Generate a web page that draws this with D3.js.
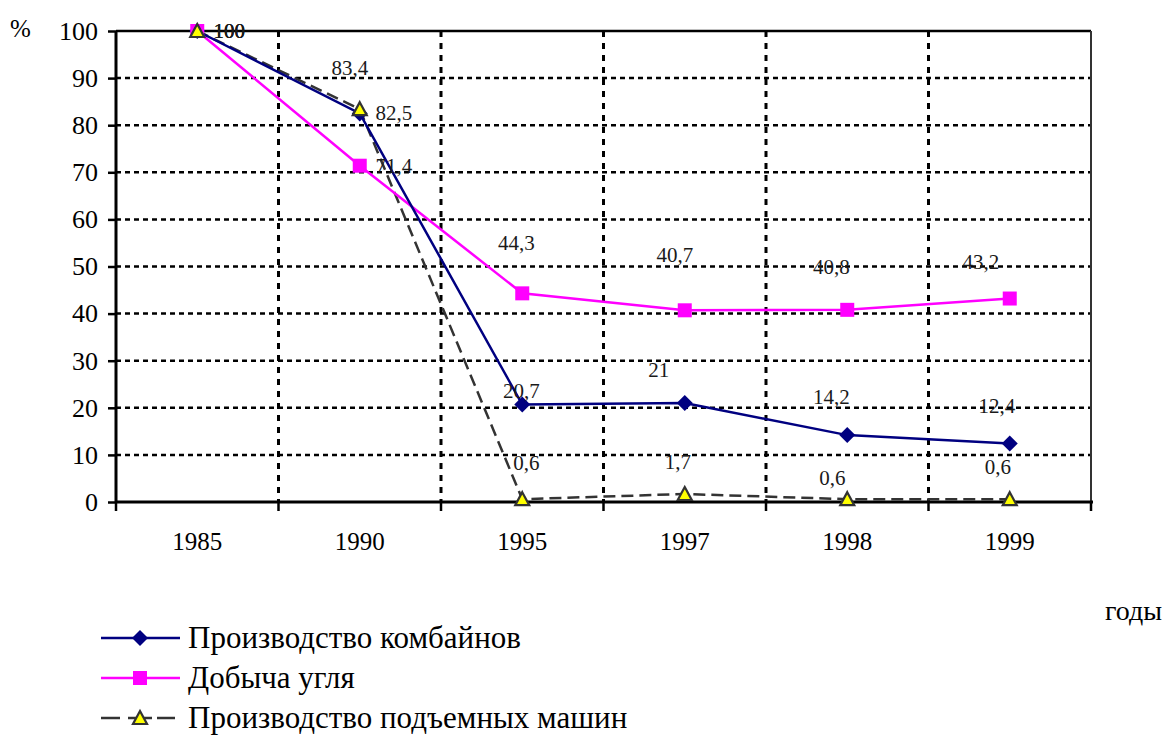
<!DOCTYPE html>
<html><head><meta charset="utf-8">
<script src="https://cdn.jsdelivr.net/npm/d3@7/dist/d3.min.js"></script>
</head><body style="margin:0"><svg id="c" width="1173" height="738"></svg>
<script>
const categories = ["1985","1990","1995","1997","1998","1999"];
const combines = [100, 82.5, 20.7, 21, 14.2, 12.4];
const coal = [100, 71.4, 44.3, 40.7, 40.8, 43.2];
const lifting = [100, 83.4, 0.6, 1.7, 0.6, 0.6];
const yTicks = [0,10,20,30,40,50,60,70,80,90,100];
const seriesNames = ["Производство комбайнов","Добыча угля","Производство подъемных машин"];

// label placement (style, px offsets from the point)
const labelOffsets = {
  combines: [[32,0],[34,0],[-1,-14],[-26,-33],[-16,-38],[-13,-38]],
  coal:     [[32,0],[34,0],[-6,-50],[-10,-55],[-16,-43],[-29,-37]],
  lifting:  [[32,0],[-10,-41],[4,-36],[-7,-32],[-15,-21],[-12,-32]]
};
const FONT = "Liberation Serif";

const svg = d3.select("#c");
const L=116,R=1091,T=31,B=502;
const x = d3.scaleBand().domain(categories).range([L,R]).padding(0);
const y = d3.scaleLinear().domain([0,100]).range([B,T]);
const cx = d => x(d)+x.bandwidth()/2;

// horizontal grid
svg.append("g").selectAll("line").data(yTicks.filter(t=>t>0 && t<100)).join("line")
  .attr("x1",L).attr("x2",R).attr("y1",d=>y(d)).attr("y2",d=>y(d))
  .attr("stroke","#000").attr("stroke-width",2.5).attr("stroke-dasharray","5,4");
// vertical grid
svg.append("g").selectAll("line").data(categories.slice(1)).join("line")
  .attr("x1",d=>x(d)).attr("x2",d=>x(d)).attr("y1",T).attr("y2",B)
  .attr("stroke","#000").attr("stroke-width",3).attr("stroke-dasharray","6,6");
// top and right borders
svg.append("line").attr("x1",L).attr("x2",R).attr("y1",T).attr("y2",T).attr("stroke","#000").attr("stroke-width",2.5);
svg.append("line").attr("x1",R).attr("x2",R).attr("y1",T).attr("y2",B).attr("stroke","#333").attr("stroke-width",2);

// y axis
const yAxis = svg.append("g").attr("transform",`translate(${L},0)`)
  .call(d3.axisLeft(y).tickValues(yTicks).tickSize(8).tickPadding(10));
yAxis.attr("font-family",null).attr("font-size",null);
yAxis.select(".domain").attr("stroke-width",3).attr("d",`M0,${T}V${B}`);
yAxis.selectAll(".tick line").attr("stroke-width",2.5);
yAxis.selectAll("text").attr("fill","#000").attr("font-size",26).style("font-family",FONT);

// x axis
const xAxis = svg.append("g").attr("transform",`translate(0,${B})`)
  .call(d3.axisBottom(x).tickSize(0).tickPadding(30));
xAxis.attr("font-family",null).attr("font-size",null);
xAxis.select(".domain").attr("stroke-width",3).attr("d",`M${L},0H${R+2}`);
xAxis.selectAll("text").attr("fill","#000").attr("font-size",25).style("font-family",FONT);
svg.append("g").selectAll("line").data(categories.map(c=>x(c)).concat([R])).join("line")
  .attr("x1",d=>d).attr("x2",d=>d).attr("y1",B).attr("y2",B+9).attr("stroke","#000").attr("stroke-width",2.5);

svg.append("text").attr("x",10).attr("y",37).attr("font-size",25).style("font-family",FONT).text("%");
svg.append("text").attr("x",1105).attr("y",620).attr("font-size",28).style("font-family",FONT).text("годы");

const line = d3.line().x((d,i)=>cx(categories[i])).y(d=>y(d));

// lifting (dashed)
svg.append("path").datum(lifting).attr("d",line).attr("fill","none")
  .attr("stroke","#333").attr("stroke-width",2.5).attr("stroke-dasharray","12,6");
// coal
svg.append("path").datum(coal).attr("d",line).attr("fill","none")
  .attr("stroke","#FF00FF").attr("stroke-width",2.5);
// combines
svg.append("path").datum(combines).attr("d",line).attr("fill","none")
  .attr("stroke","#000080").attr("stroke-width",2.5);

function drawDiamond(g,px,py){
  g.append("path").attr("d","M0,-8L8,0L0,8L-8,0Z").attr("transform",`translate(${px},${py})`).attr("fill","#000080");
}
function drawSquare(g,px,py){
  g.append("rect").attr("x",px-7).attr("y",py-7).attr("width",14).attr("height",14).attr("fill","#FF00FF");
}
function drawTri(g,px,py){
  g.append("path").attr("d","M0,-7L7,6L-7,6Z").attr("transform",`translate(${px},${py})`)
   .attr("fill","#FFFF00").attr("stroke","#333").attr("stroke-width",2.2).attr("stroke-linejoin","miter");
}
const mk = svg.append("g");
combines.forEach((v,i)=>drawDiamond(mk,cx(categories[i]),y(v)));
coal.forEach((v,i)=>drawSquare(mk,cx(categories[i]),y(v)));
lifting.forEach((v,i)=>drawTri(mk,cx(categories[i]),y(v)));

// data labels
const fmt = v => String(v).replace(".",",");
function labels(vals,offs){
  svg.append("g").selectAll("text").data(vals).join("text")
    .attr("x",(d,i)=>cx(categories[i])+offs[i][0])
    .attr("y",(d,i)=>y(d)+offs[i][1]+7)
    .attr("text-anchor","middle")
    .attr("fill","#1a1a1a").attr("font-size",21).style("font-family",FONT).text(fmt);
}
labels(combines,labelOffsets.combines);
labels(coal,labelOffsets.coal);
labels(lifting,labelOffsets.lifting);

// legend
const lg = svg.append("g");
const legendY = [638,678,718];
lg.append("line").attr("x1",101).attr("x2",180).attr("y1",legendY[0]).attr("y2",legendY[0]).attr("stroke","#000080").attr("stroke-width",2.5);
drawDiamond(lg,140,legendY[0]);
lg.append("line").attr("x1",101).attr("x2",180).attr("y1",legendY[1]).attr("y2",legendY[1]).attr("stroke","#FF00FF").attr("stroke-width",2.5);
drawSquare(lg,140,legendY[1]);
[[101,120],[157,175]].forEach(s=>lg.append("line").attr("x1",s[0]).attr("x2",s[1]).attr("y1",legendY[2]).attr("y2",legendY[2]).attr("stroke","#333").attr("stroke-width",2.5));
lg.append("line").attr("x1",128).attr("x2",152).attr("y1",legendY[2]).attr("y2",legendY[2]).attr("stroke","#333").attr("stroke-width",2.5);
drawTri(lg,140,legendY[2]);
lg.selectAll("text").data(seriesNames).join("text")
  .attr("x",188).attr("y",(d,i)=>legendY[i]+10)
  .attr("fill","#000").attr("font-size",31).style("font-family",FONT).text(d=>d);
</script></body></html>
